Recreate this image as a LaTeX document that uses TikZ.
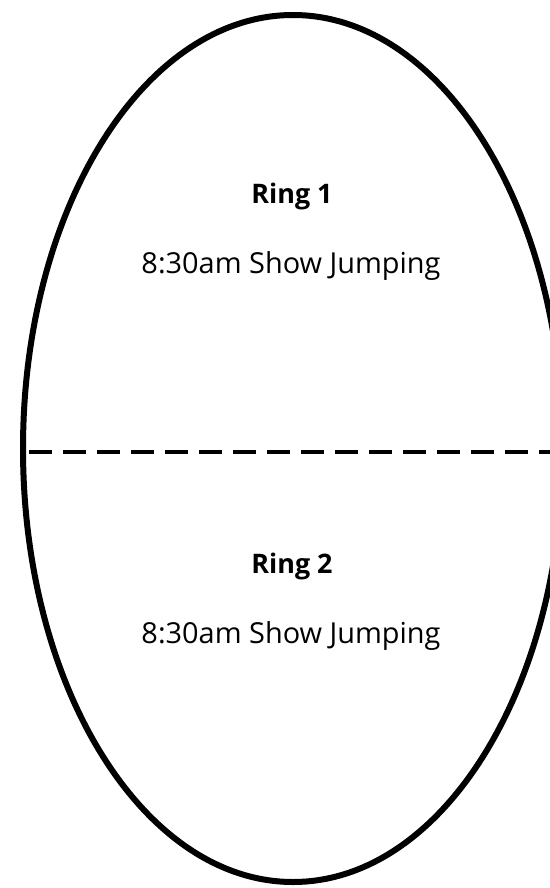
\documentclass[tikz,border=0pt]{standalone}
\usepackage{fontspec}
\setmainfont{Open Sans}
\begin{document}
\begin{tikzpicture}[x=1bp,y=-1bp,
  ring/.style={draw=black,line width=6bp},
  divider/.style={draw=black,line width=4.5bp,dash pattern=on 23bp off 11bp},
  title/.style={anchor=base,inner sep=0pt,font=\fontsize{27}{32}\selectfont\bfseries},
  event/.style={anchor=base,inner sep=0pt,font=\fontsize{29}{34}\selectfont}]
\useasboundingbox (0,0) rectangle (550,888);
\clip (0,0) rectangle (550,888);
\fill[white] (0,0) rectangle (550,888);
\draw[ring] (293,448.5) ellipse [x radius=270, y radius=433.5];
\coordinate (dl) at (29,452);
\coordinate (dr) at (570,452);
\draw[divider] (dl) -- (dr);
\node[title] (r1) at (292,203) {Ring 1};
\node[event] (e1) at (291,273) {8:30am Show Jumping};
\node[title] (r2) at (292,573) {Ring 2};
\node[event] (e2) at (291,643) {8:30am Show Jumping};
\end{tikzpicture}
\end{document}
